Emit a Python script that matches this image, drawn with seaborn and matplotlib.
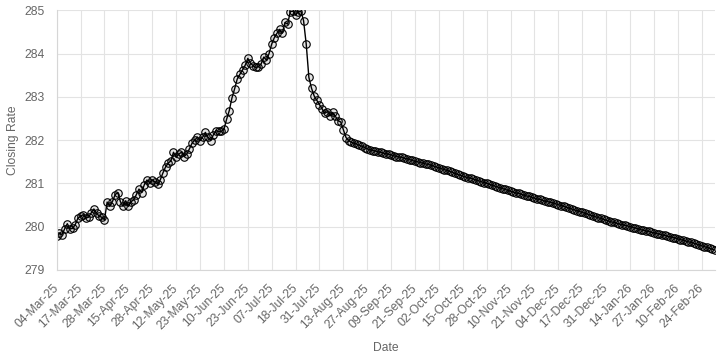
import matplotlib
matplotlib.use("Agg")
import matplotlib.pyplot as plt
import matplotlib.transforms as mtransforms
import pandas as pd
import seaborn as sns

tick_labels = ["04-Mar-25", "17-Mar-25", "28-Mar-25", "15-Apr-25", "28-Apr-25", "12-May-25",
               "23-May-25", "10-Jun-25", "23-Jun-25", "07-Jul-25", "18-Jul-25", "31-Jul-25",
               "13-Aug-25", "27-Aug-25", "09-Sep-25", "21-Sep-25", "02-Oct-25", "15-Oct-25",
               "28-Oct-25", "10-Nov-25", "21-Nov-25", "04-Dec-25", "17-Dec-25", "31-Dec-25",
               "14-Jan-26", "27-Jan-26", "10-Feb-26", "24-Feb-26"]
label_step = 9

hist_rates = [
    279.78, 279.85, 279.82, 279.95, 280.07, 279.95, 279.96, 280.05, 280.20, 280.24,
    280.28, 280.20, 280.22, 280.32, 280.41, 280.32, 280.24, 280.22, 280.16, 280.57,
    280.47, 280.58, 280.74, 280.79, 280.58, 280.47, 280.60, 280.47, 280.58, 280.62,
    280.74, 280.87, 280.79, 280.97, 281.08, 281.02, 281.08, 281.04, 280.98, 281.08,
    281.24, 281.38, 281.47, 281.52, 281.72, 281.60, 281.68, 281.72, 281.62, 281.68,
    281.80, 281.93, 282.00, 282.07, 281.99, 282.07, 282.18, 282.07, 281.99, 282.12,
    282.22, 282.20, 282.20, 282.25, 282.48, 282.68, 282.97, 283.18, 283.41, 283.52,
    283.62, 283.73, 283.89, 283.78, 283.72, 283.68, 283.70, 283.76, 283.92, 283.85,
    284.00, 284.22, 284.37, 284.47, 284.56, 284.47, 284.72, 284.68, 284.97, 284.98,
    284.89, 284.97, 284.98, 284.76, 284.22, 283.45, 283.20, 283.02, 282.92, 282.82,
    282.72, 282.62, 282.66, 282.56, 282.64, 282.55, 282.45, 282.42,
]

trend_rates = [
    282.24, 282.06, 281.99, 281.95, 281.93, 281.91, 281.88, 281.86, 281.83, 281.80,
    281.78, 281.76, 281.75, 281.73, 281.72, 281.70, 281.69, 281.67, 281.66, 281.64,
    281.62, 281.61, 281.60, 281.58, 281.57, 281.55, 281.53, 281.51, 281.50, 281.48,
    281.47, 281.45, 281.44, 281.42, 281.40, 281.38, 281.36, 281.34, 281.32, 281.30,
    281.28, 281.26, 281.23, 281.21, 281.19, 281.17, 281.15, 281.13, 281.12, 281.10,
    281.08, 281.06, 281.04, 281.02, 281.00, 280.98, 280.96, 280.94, 280.92, 280.90,
    280.88, 280.86, 280.84, 280.82, 280.80, 280.78, 280.77, 280.75, 280.73, 280.71,
    280.70, 280.68, 280.66, 280.64, 280.63, 280.61, 280.59, 280.58, 280.56, 280.55,
    280.53, 280.51, 280.49, 280.47, 280.45, 280.43, 280.41, 280.39, 280.37, 280.35,
    280.33, 280.31, 280.29, 280.27, 280.25, 280.23, 280.21, 280.19, 280.17, 280.15,
    280.13, 280.11, 280.10, 280.08, 280.06, 280.05, 280.03, 280.02, 280.00, 279.98,
    279.97, 279.95, 279.93, 279.92, 279.90, 279.89, 279.87, 279.86, 279.84, 279.83,
    279.81, 279.80, 279.78, 279.77, 279.75, 279.74, 279.72, 279.70, 279.69, 279.67,
    279.65, 279.64, 279.62, 279.60, 279.58, 279.56, 279.54, 279.52, 279.50, 279.48,
    279.46,
]

rates = hist_rates + trend_rates
df = pd.DataFrame({"idx": list(range(len(rates))), "rate": rates})

sns.set_theme(style="whitegrid")
plt.rcParams["font.family"] = ["Liberation Sans", "DejaVu Sans"]

W, H = 720, 360
fig = plt.figure(figsize=(W / 100, H / 100), dpi=100)
left, right, top, bottom = 56.7, 715.0, 10.3, 270.0
ax = fig.add_axes([left / W, 1 - bottom / H, (right - left) / W, (bottom - top) / H])

sns.lineplot(data=df, x="idx", y="rate", ax=ax, color="black", linewidth=1.0,
             marker="o", markersize=5.4, markerfacecolor=(0, 0, 0, 0.1),
             markeredgecolor="black", markeredgewidth=0.8)

ax.set_xlim(0, len(rates) - 1)
ax.set_ylim(279, 285)
ax.set_yticks([279, 280, 281, 282, 283, 284, 285])
ax.set_xticks(list(range(0, len(tick_labels) * label_step, label_step)))
ax.set_xticklabels(tick_labels, rotation=45, ha="right", va="center", rotation_mode="anchor")

shift = mtransforms.ScaledTranslation(1.5 / 100, 0, fig.dpi_scale_trans)
for lbl in ax.get_xticklabels():
    lbl.set_transform(lbl.get_transform() + shift)

grid_c = "#e3e3e3"
ax.grid(True, color=grid_c, linewidth=0.8)
for s in ["top", "right"]:
    ax.spines[s].set_visible(False)
for s in ["left", "bottom"]:
    ax.spines[s].set_color("#d6d6d6")
    ax.spines[s].set_linewidth(0.8)

ax.tick_params(axis="both", length=5.8, width=0.8, color=grid_c, labelcolor="#666666",
               labelsize=8.7)
ax.tick_params(axis="x", pad=6)
ax.tick_params(axis="y", pad=2.5)

ax.set_xlabel("Date", color="#666666", fontsize=8.7)
ax.set_ylabel("Closing Rate", color="#666666", fontsize=8.7)
ax.xaxis.set_label_coords(0.5, -0.277)
ax.yaxis.set_label_coords(-0.057, 0.5)

fig.savefig("out.png", dpi=100, facecolor="white")
